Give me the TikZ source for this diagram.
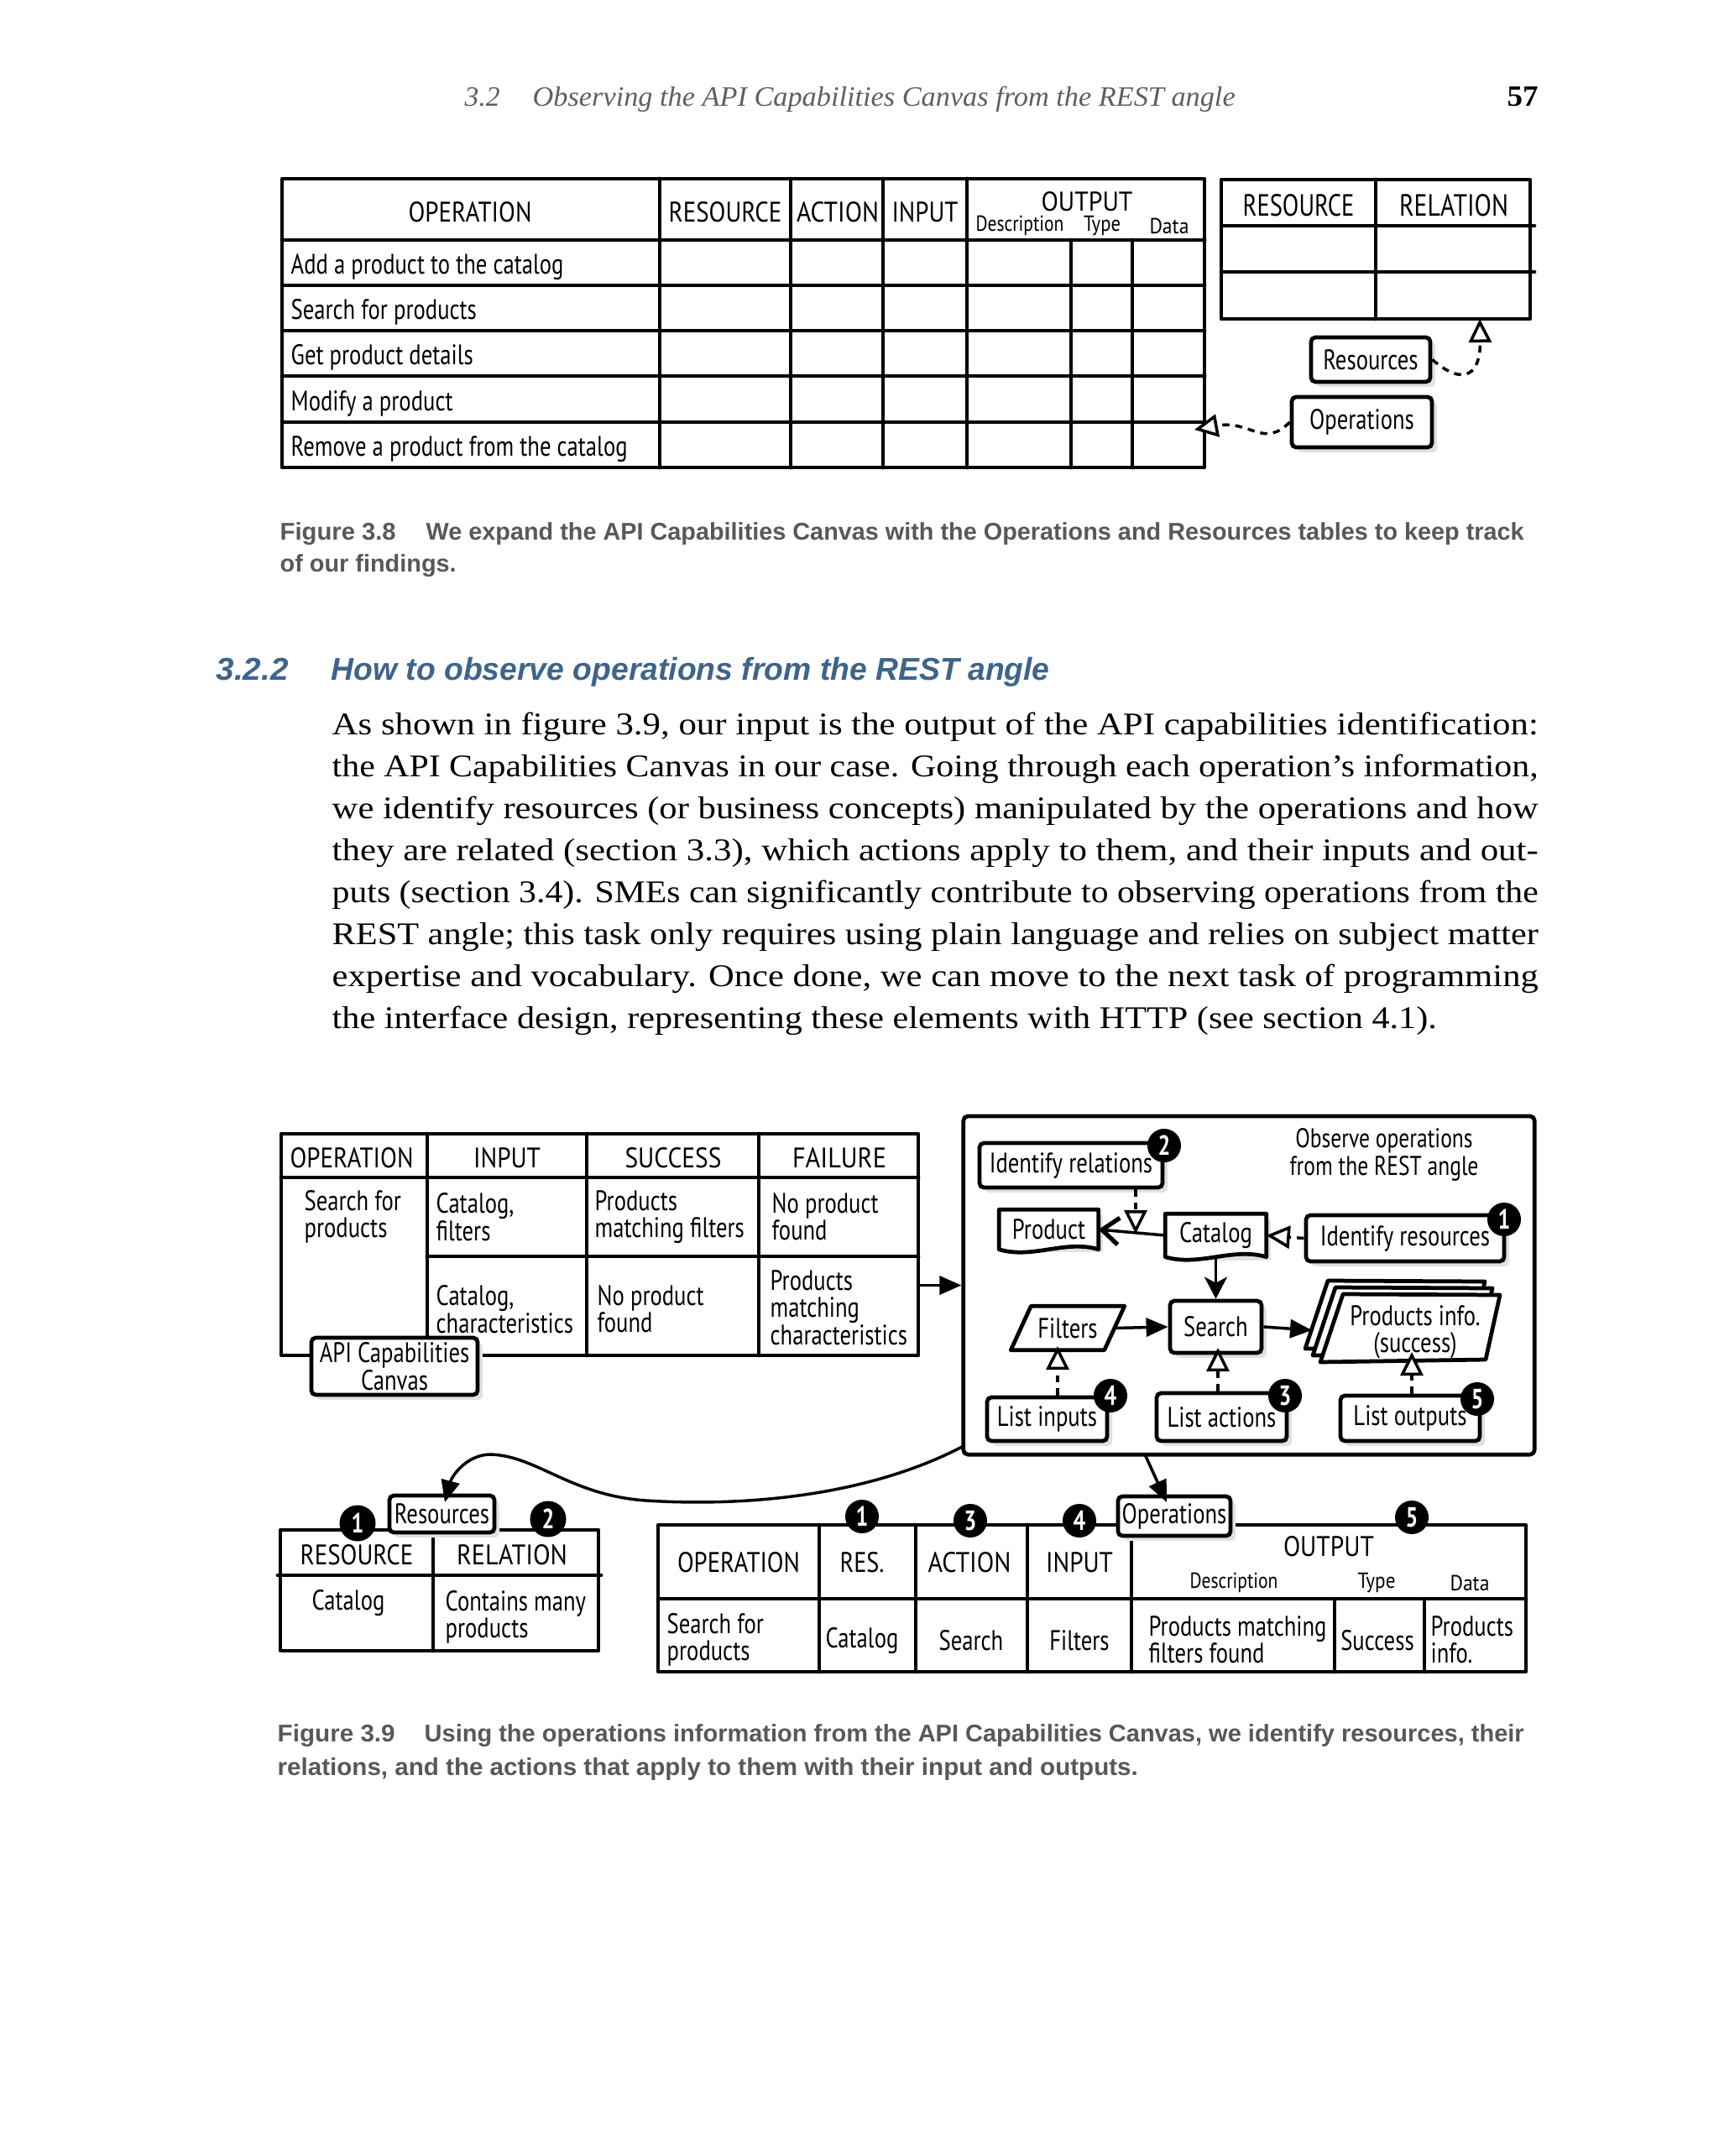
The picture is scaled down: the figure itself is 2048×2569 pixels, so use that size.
\documentclass[tikz,border=0pt]{standalone}
\usepackage{fontspec}
\usepackage{graphicx}
\usetikzlibrary{arrows.meta,shadows,calc}
\setmainfont{Liberation Serif}
\newfontfamily\hand[FakeStretch=0.79]{PT Sans}
\newfontfamily\capsans{Liberation Sans}
\newlength\pxu \setlength\pxu{0.01cm}
\newcommand\fw[2]{\resizebox{#1\pxu}{\height}{#2}}
\definecolor{capgray}{RGB}{88,88,88}
\definecolor{hdgblue}{RGB}{63,100,138}
\definecolor{hdrgray}{RGB}{95,95,95}
\definecolor{shgray}{RGB}{225,225,225}
\begin{document}
\begin{tikzpicture}[x=0.01cm,y=-0.01cm,
  tl/.style={line width=1.35pt, line join=round, line cap=round},
  hw/.style={font=\hand\fontsize{9.6}{9.2}\selectfont, inner sep=0pt},
  hws/.style={font=\hand\fontsize{7.4}{8}\selectfont, inner sep=0pt},
  cell/.style={hw, align=left, anchor=west},
  mybox/.style={draw, line width=1.35pt, fill=white, rounded corners=1.5pt, inner sep=0pt, hw, align=center},
  mysbox/.style={mybox, drop shadow={shadow xshift=0.06cm, shadow yshift=-0.06cm, fill=shgray, opacity=1}},
  badge/.style={circle, fill=black, text=white, inner sep=0pt, minimum size=0.40cm, font=\hand\bfseries\fontsize{9.4}{9}\selectfont},
  conn/.style={line width=1pt},
  dconn/.style={line width=1pt, dash pattern=on 2.4pt off 2pt},
  opentip/.style={-{Triangle[fill=white, length=0.28cm, width=0.27cm, line width=1pt]}},
  filltip/.style={-{Triangle[length=0.26cm, width=0.22cm]}},
  captxt/.style={anchor=base west, inner sep=0pt, text=capgray, font=\capsans\bfseries\fontsize{8.2}{10}\selectfont},
  bodytxt/.style={anchor=base west, inner sep=0pt, font=\fontsize{10.7}{12}\selectfont}
]
\fill[white] (0,0) rectangle (2048,2569);
\useasboundingbox (0,0) rectangle (2048,2569);

% ---------- running header ----------
\node[anchor=base west, inner sep=0pt, text=hdrgray, font=\itshape\fontsize{9.5}{11}\selectfont] (hnum) at (553,126) {\fw{42}{3.2}};
\node[anchor=base west, inner sep=0pt, text=hdrgray, font=\itshape\fontsize{9.5}{11}\selectfont] (htitle) at (634,126) {\fw{837}{Observing the API Capabilities Canvas from the REST angle}};
\node[anchor=base west, inner sep=0pt, font=\bfseries\fontsize{10}{11}\selectfont] (hpage) at (1795,126) {\fw{37}{57}};

% ---------- Figure 3.8 : operations table ----------
\draw[tl] (336,213) rectangle (1435,557);
\foreach \yy in {286,340,394,448,503} \draw[tl] (336,\yy) -- (1435,\yy);
\foreach \xx in {786,942,1052,1152} \draw[tl] (\xx,213) -- (\xx,557);
\foreach \xx in {1276,1349} \draw[tl] (\xx,286) -- (\xx,557);
\node[hw] (t8op) at (560,253) {\fw{147}{OPERATION}};
\node[hw] (t8res) at (864,253) {\fw{135}{RESOURCE}};
\node[hw] (t8act) at (998,253) {\fw{98}{ACTION}};
\node[hw] (t8in) at (1102,253) {\fw{79}{INPUT}};
\node[hw, font=\hand\fontsize{9.2}{9}\selectfont] (t8out) at (1295,240) {\fw{109}{OUTPUT}};
\node[hws] (t8desc) at (1215,269) {\fw{105}{Description}};
\node[hws] (t8type) at (1313,269) {\fw{44}{Type}};
\node[hws] (t8data) at (1393,269) {\fw{47}{Data}};
\node[hw, anchor=base west] (r1) at (346,326) {Add a product to the catalog};
\node[hw, anchor=base west] (r2) at (346,380) {Search for products};
\node[hw, anchor=base west] (r3) at (346,434) {Get product details};
\node[hw, anchor=base west] (r4) at (346,489) {Modify a product};
\node[hw, anchor=base west] (r5) at (346,543) {Remove a product from the catalog};

% ---------- Figure 3.8 : resources table ----------
\draw[tl] (1455,214) rectangle (1823,380);
\draw[tl] (1455,269) -- (1828,269);
\draw[tl] (1455,324) -- (1828,324);
\draw[tl] (1639,214) -- (1639,380);
\node[hw, font=\hand\fontsize{10.4}{10}\selectfont] (rt8res) at (1547,245) {\fw{133}{RESOURCE}};
\node[hw, font=\hand\fontsize{10.4}{10}\selectfont] (rt8rel) at (1732,245) {\fw{130}{RELATION}};

\node[mysbox, minimum width=1.42cm, minimum height=0.53cm] (res8) at (1633,428.5) {Resources};
\node[mysbox, minimum width=1.67cm, minimum height=0.60cm] (ops8) at (1622.5,503) {Operations};
\coordinate (res8tip) at (1763,380);
\coordinate (ops8tip) at (1423,512);
\draw[dconn, opentip] (res8.east) .. controls (1745,462) and (1764,445) .. (res8tip);
\draw[dconn, opentip] (ops8.west) .. controls (1505,535) and (1490,500) .. (ops8tip);

% ---------- caption 3.8 ----------
\node[captxt] (c38a) at (333,643) {\fw{138}{Figure 3.8}};
\node[captxt] (c38b) at (507,643) {\fw{1308}{We expand the API Capabilities Canvas with the Operations and Resources tables to keep track}};
\node[captxt] (c38c) at (333,681) {\fw{210}{of our findings.}};

% ---------- section heading ----------
\node[anchor=base west, inner sep=0pt, text=hdgblue, font=\capsans\bfseries\itshape\fontsize{10.7}{12}\selectfont] (hd1) at (257,810) {\fw{86}{3.2.2}};
\node[anchor=base west, inner sep=0pt, text=hdgblue, font=\capsans\bfseries\itshape\fontsize{10.7}{12}\selectfont] (hd2) at (394,810) {\fw{856}{How to observe operations from the REST angle}};

% ---------- body text ----------
\node[bodytxt] (b1) at (395,875) {\fw{1437}{As shown in figure 3.9, our input is the output of the API capabilities identification:}};
\node[bodytxt] (b2) at (395,925) {\fw{1437}{the API Capabilities Canvas in our case. Going through each operation’s information,}};
\node[bodytxt] (b3) at (395,975) {\fw{1437}{we identify resources (or business concepts) manipulated by the operations and how}};
\node[bodytxt] (b4) at (395,1025) {\fw{1437}{they are related (section 3.3), which actions apply to them, and their inputs and out-}};
\node[bodytxt] (b5) at (395,1075) {\fw{1437}{puts (section 3.4). SMEs can significantly contribute to observing operations from the}};
\node[bodytxt] (b6) at (395,1125) {\fw{1437}{REST angle; this task only requires using plain language and relies on subject matter}};
\node[bodytxt] (b7) at (395,1175) {\fw{1437}{expertise and vocabulary. Once done, we can move to the next task of programming}};
\node[bodytxt] (b8) at (395,1225) {\fw{1316}{the interface design, representing these elements with HTTP (see section 4.1).}};

% ---------- Figure 3.9 : API Capabilities Canvas ----------
\draw[tl] (335,1351) rectangle (1094,1615);
\draw[tl] (335,1403) -- (1094,1403);
\draw[tl] (509,1497) -- (1094,1497);
\foreach \xx in {509,699,904} \draw[tl] (\xx,1351) -- (\xx,1615);
\node[hw] (l9op) at (419,1380) {\fw{147}{OPERATION}};
\node[hw] (l9in) at (604,1380) {\fw{80}{INPUT}};
\node[hw] (l9suc) at (802,1380) {\fw{115}{SUCCESS}};
\node[hw] (l9fail) at (1000,1380) {\fw{112}{FAILURE}};
\node[cell] (c11) at (362,1450) {Search for\\products};
\node[cell] (c12) at (519,1450) {Catalog,\\filters};
\node[cell] (c13) at (708,1450) {Products\\matching filters};
\node[cell] (c14) at (919,1450) {No product\\found};
\node[cell] (c22) at (519,1560) {Catalog,\\characteristics};
\node[cell] (c23) at (711,1560) {No product\\found};
\node[cell] (c24) at (917,1558) {Products\\matching\\characteristics};
\node[mysbox, minimum width=1.98cm, minimum height=0.68cm] (canvas) at (470,1628) {API Capabilities\\Canvas};

% ---------- Figure 3.9 : observe box ----------
\node[draw, tl, rounded corners=1.5pt, minimum width=6.80cm, minimum height=4.03cm, inner sep=0pt] (obs) at (1488,1531.5) {};
\coordinate (canR) at (1094,1531.5);
\draw[conn, filltip] (canR) -- (obs.west);

\node[hw, align=center, font=\hand\fontsize{9.2}{9.2}\selectfont] (obstitle) at (1649,1376) {Observe operations\\from the REST angle};
\node[mysbox, minimum width=2.18cm, minimum height=0.53cm] (idrel) at (1276,1388.5) {Identify relations};
\node[mysbox, minimum width=2.36cm, minimum height=0.55cm] (idres) at (1674,1475.5) {Identify resources};

% document-like shapes (with light shadow)
\fill[shgray] (1197,1448) rectangle (1314,1492);
\fill[shgray] (1395,1453) rectangle (1514,1502);
\node[hw, minimum width=1.17cm, minimum height=0.46cm] (product) at (1249.5,1465) {Product};
\draw[tl, fill=white] (product.south west) -- (product.north west) -- (product.north east) -- (product.south east) .. controls +(-40,-12) and +(40,12) .. (product.south west);
\node[hw, minimum width=1.17cm, minimum height=0.46cm] at (1249.5,1465) {Product};
\node[hw, minimum width=1.19cm, minimum height=0.50cm] (catalog) at (1448.5,1472) {Catalog};
\draw[tl, fill=white] (catalog.south west) -- (catalog.north west) -- (catalog.north east) -- (catalog.south east) .. controls +(-40,-12) and +(40,12) .. (catalog.south west);
\node[hw, minimum width=1.19cm, minimum height=0.50cm] at (1448.5,1472) {Catalog};

\node[mysbox, minimum width=1.09cm, minimum height=0.62cm] (search) at (1448.5,1581) {Search};
\node[hw, minimum width=1.10cm, minimum height=0.51cm] (filters) at (1272,1582.5) {Filters};
\draw[tl] ($(filters.south west)+(-12,0)$) -- ($(filters.north west)+(12,0)$) -- ($(filters.north east)+(12,0)$) -- ($(filters.south east)+(-12,0)$) -- cycle;

% stacked pages
\draw[tl, fill=white] (1582,1526) -- (1769,1527) -- (1752,1604) -- (1555,1607) -- cycle;
\draw[tl, fill=white] (1591,1534) -- (1778,1535) -- (1761,1612) -- (1564,1615) -- cycle;
\draw[tl, fill=white] (1600,1542) -- (1787,1543) -- (1770,1620) -- (1573,1623) -- cycle;
\node[hw, align=center] (pinfo) at (1686,1587) {Products info.\\(success)};
\coordinate (pinL) at (1563,1585);

\node[mysbox, minimum width=1.43cm, minimum height=0.52cm] (linp) at (1247.5,1691) {List inputs};
\node[mysbox, minimum width=1.55cm, minimum height=0.57cm] (lact) at (1455.5,1688.5) {List actions};
\node[mysbox, minimum width=1.66cm, minimum height=0.54cm] (lout) at (1680,1690) {List outputs};

% connectors inside
\coordinate (relT) at (1353,1470);
\coordinate (fT) at (1260,1604);
\coordinate (sT) at (1451,1606);
\coordinate (pT) at (1682,1611);
\draw[conn, -{Straight Barb[length=0.2cm, width=0.32cm, line width=1.5pt]}] (catalog.west) -- (product.east);
\draw[dconn, opentip] (relT |- idrel.south) -- (relT);
\draw[dconn, opentip] (idres.west) -- (catalog.east);
\draw[conn, -{Stealth[length=0.26cm, width=0.27cm, inset=0.07cm]}] (catalog.south) -- (search.north);
\draw[conn, filltip] (filters.east) -- (search.west);
\draw[conn, filltip] (search.east) -- (pinL);
\draw[dconn, opentip] (fT |- linp.north) -- (fT);
\draw[dconn, opentip] (sT |- lact.north) -- (sT);
\draw[dconn, opentip] (pT |- lout.north) -- (pT);

\node[badge] (bg2) at (1387,1365) {2};
\node[badge] (bg1) at (1792,1453) {1};
\node[badge] (bg4) at (1323,1663) {4};
\node[badge] (bg3) at (1531,1663) {3};
\node[badge] (bg5) at (1760,1667) {5};

% ---------- Figure 3.9 : resources table ----------
\draw[tl] (334,1823) rectangle (713,1967);
\draw[tl] (331,1877) -- (716,1877);
\draw[tl] (516,1823) -- (516,1967);
\node[hw] (blres) at (425,1853) {\fw{135}{RESOURCE}};
\node[hw] (blrel) at (610,1853) {\fw{132}{RELATION}};
\node[hw] (blcat) at (415,1910) {Catalog};
\node[cell] (blcon) at (530,1927) {Contains many\\products};
\node[badge, minimum size=0.43cm] (bb1) at (426,1815) {1};
\node[badge, minimum size=0.43cm] (bb2) at (653,1810) {2};
\node[mysbox, minimum width=1.25cm, minimum height=0.44cm] (res9) at (526.5,1804) {Resources};

% ---------- Figure 3.9 : operations table ----------
\draw[tl] (784,1817) rectangle (1818,1992);
\draw[tl] (784,1905) -- (1818,1905);
\foreach \xx in {976,1091,1224,1348} \draw[tl] (\xx,1817) -- (\xx,1992);
\foreach \xx in {1590,1697} \draw[tl] (\xx,1905) -- (\xx,1992);
\node[hw] (brop) at (880,1862) {\fw{146}{OPERATION}};
\node[hw] (brres) at (1027,1862) {\fw{53}{RES.}};
\node[hw] (bract) at (1155,1862) {\fw{99}{ACTION}};
\node[hw] (brin) at (1286,1862) {\fw{80}{INPUT}};
\node[hw] (brout) at (1583,1843) {\fw{108}{OUTPUT}};
\node[hws] (brdesc) at (1470,1886) {\fw{105}{Description}};
\node[hws] (brtype) at (1640,1886) {\fw{45}{Type}};
\node[hws] (brdata) at (1751,1886) {\fw{47}{Data}};
\node[cell] (bc1) at (794,1954) {Search for\\products};
\node[hw] (bc2) at (1027,1955) {Catalog};
\node[hw] (bc3) at (1157,1955) {Search};
\node[hw] (bc4) at (1286,1955) {Filters};
\node[cell] (bc5) at (1368,1954) {Products matching\\filters found};
\node[hw] (bc6) at (1641,1955) {Success};
\node[cell] (bc7) at (1704,1954) {Products\\info.};
\node[badge] (bo1) at (1027,1807) {1};
\node[badge] (bo3) at (1156,1812) {3};
\node[badge] (bo4) at (1286,1812) {4};
\node[badge] (bo5) at (1682,1808) {5};
\node[mysbox, minimum width=1.34cm, minimum height=0.47cm] (ops9) at (1399,1806.5) {Operations};

% ---------- connectors from the observe box ----------
\coordinate (obsBL) at (1148,1723);
\coordinate (res9tip) at (530,1790);
\coordinate (obsB) at (1364,1733);
\coordinate (ops9tip) at (1390,1790);
\draw[conn, filltip] (obsBL) .. controls (1030,1785) and (880,1795) .. (770,1788) .. controls (680,1782) and (640,1735) .. (585,1733) .. controls (555,1733) and (538,1760) .. (res9tip);
\draw[conn, filltip] (obsB) -- (ops9tip);

% ---------- caption 3.9 ----------
\node[captxt] (c39a) at (330,2075) {\fw{140}{Figure 3.9}};
\node[captxt] (c39b) at (505,2075) {\fw{1310}{Using the operations information from the API Capabilities Canvas, we identify resources, their}};
\node[captxt] (c39c) at (330,2115) {\fw{1025}{relations, and the actions that apply to them with their input and outputs.}};
\end{tikzpicture}
\end{document}
